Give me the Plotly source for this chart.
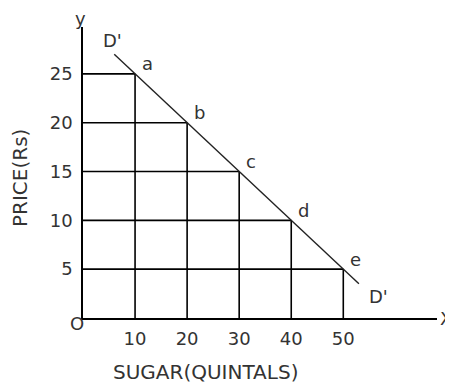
import plotly.graph_objects as go

# demand schedule for sugar
quantity = [10, 20, 30, 40, 50]
price = [25, 20, 15, 10, 5]
point_names = ["a", "b", "c", "d", "e"]

# extent of the D'D' demand line
curve_x = [6, 53]
curve_y = [27, 3.5]

fig = go.Figure()

# guide lines from both axes to each point of the schedule
for q, p in zip(quantity, price):
    fig.add_trace(go.Scatter(x=[0, q], y=[p, p], mode="lines",
                             line=dict(color="black", width=1.6),
                             hoverinfo="skip"))
    fig.add_trace(go.Scatter(x=[q, q], y=[0, p], mode="lines",
                             line=dict(color="black", width=1.6),
                             hoverinfo="skip"))

# demand curve
fig.add_trace(go.Scatter(x=curve_x, y=curve_y, mode="lines",
                         line=dict(color="#222", width=1.4),
                         hoverinfo="skip"))

font = dict(family="DejaVu Sans, sans-serif", size=18, color="#333")
title_font = dict(font, size=20)

for q, p, name in zip(quantity, price, point_names):
    fig.add_annotation(x=q, y=p, text=name, showarrow=False, font=font,
                       xanchor="center", yanchor="middle",
                       xshift=12, yshift=10)

# D' at both ends of the curve
fig.add_annotation(x=curve_x[0], y=curve_y[0], text="D'", showarrow=False,
                   font=font, xanchor="center", yanchor="middle",
                   xshift=-2, yshift=14)
fig.add_annotation(x=curve_x[1], y=curve_y[1], text="D'", showarrow=False,
                   font=font, xanchor="center", yanchor="middle",
                   xshift=20, yshift=-13)

# axis letters
fig.add_annotation(x=0, y=1, xref="x", yref="paper", text="y", showarrow=False,
                   font=font, xanchor="center", yanchor="middle",
                   xshift=-3, yshift=9)
fig.add_annotation(x=1, y=0, xref="paper", yref="y", text="X", showarrow=False,
                   font=font, xanchor="center", yanchor="middle",
                   xshift=9, yshift=0)
fig.add_annotation(x=0, y=0, text="O", showarrow=False, font=font,
                   xanchor="center", yanchor="middle",
                   xshift=-6, yshift=-5)

# axis titles
fig.add_annotation(x=-0.178, y=0.481, xref="paper", yref="paper",
                   text="PRICE(Rs)", showarrow=False, font=title_font,
                   textangle=-90, xanchor="center", yanchor="middle")
fig.add_annotation(x=0.347, y=-0.186, xref="paper", yref="paper",
                   text="SUGAR(QUINTALS)", showarrow=False, font=title_font,
                   xanchor="center", yanchor="middle")

fig.update_xaxes(range=[0, 68], showline=True, linecolor="black", linewidth=1.6,
                 showgrid=False, zeroline=False, tickvals=quantity,
                 ticks="", tickfont=font, ticklabelstandoff=4, fixedrange=True)
fig.update_yaxes(range=[0, 29.8], showline=True, linecolor="black", linewidth=1.6,
                 showgrid=False, zeroline=False, tickvals=price,
                 ticks="", tickfont=font, ticklabelstandoff=5, fixedrange=True)

# page body has an 8px margin, so the figure is 8px smaller each way
fig.update_layout(width=445, height=375, showlegend=False,
                  plot_bgcolor="white", paper_bgcolor="white",
                  margin=dict(l=75, r=16, t=19, b=65))

fig.write_html("out.html")
